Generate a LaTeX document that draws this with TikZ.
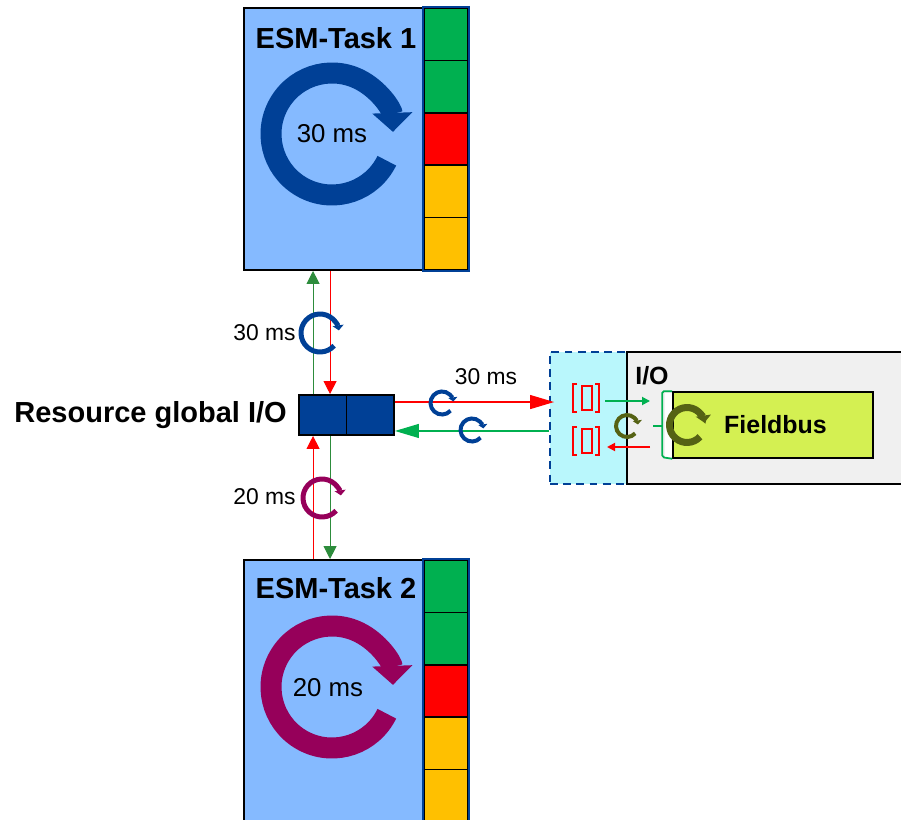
\documentclass[tikz,border=0pt]{standalone}
\usepackage{fontspec}
\setmainfont{Liberation Sans}
\usetikzlibrary{arrows.meta,positioning,calc}

\definecolor{taskblue}{RGB}{133,186,255}
\definecolor{cellgreen}{RGB}{0,176,80}
\definecolor{cellred}{RGB}{255,0,0}
\definecolor{cellorange}{RGB}{255,192,0}
\definecolor{navy}{RGB}{0,64,150}
\definecolor{plum}{RGB}{150,0,90}
\definecolor{iocyan}{RGB}{185,247,252}
\definecolor{iogray}{RGB}{240,240,240}
\definecolor{buslime}{RGB}{212,240,82}
\definecolor{busolive}{RGB}{85,98,20}
\definecolor{wiregreen}{RGB}{45,140,60}
\definecolor{linkgreen}{RGB}{0,176,80}
\definecolor{linkred}{RGB}{255,0,0}

\begin{document}
\begin{tikzpicture}[x=0.02cm, y=-0.02cm,
	taskbox/.style={draw=black, line width=1.1pt, fill=taskblue, inner sep=0pt,
		minimum width=4.48cm, minimum height=5.24cm},
	cellbox/.style={draw=black, line width=1pt, inner sep=0pt,
		minimum width=0.88cm, minimum height=1.048cm},
	title/.style={font=\bfseries\fontsize{16.5}{18}\selectfont, inner sep=0pt},
	subtitle/.style={font=\bfseries\fontsize{14.2}{16}\selectfont, inner sep=0pt},
	mslabel/.style={font=\fontsize{13}{15}\selectfont, inner sep=0pt},
	ringlabel/.style={font=\fontsize{14.7}{16}\selectfont, inner sep=0pt},
	bigloop/.style={line width=0.42cm, -{Triangle[length=0.38cm, width=0.78cm]}},
	smallloop/.style={line width=0.1cm, -{Triangle[length=0.1cm, width=0.22cm]}},
	tinyloop/.style={line width=0.08cm, -{Triangle[length=0.08cm, width=0.18cm]}},
	vlink/.style={line width=0.6pt, -{Triangle[length=0.26cm, width=0.26cm]}},
	hlink/.style={line width=0.7pt, -{Triangle[length=0.48cm, width=0.28cm]}},
	iolink/.style={line width=1pt, -{Triangle[length=0.16cm, width=0.16cm]}},
]

	\useasboundingbox (0,0) rectangle (901,820);

	% ---- tasks

	\node[taskbox] (task1) at (356,139) {};
	\node[taskbox] (task2) at (356,691) {};

	\foreach \c [count=\k from 0] in {cellgreen,cellgreen,cellred,cellorange,cellorange} {
		\node[cellbox, fill=\c] (t1c\k) at (446,{34.2+52.4*\k}) {};
		\node[cellbox, fill=\c] (t2c\k) at (446,{586.2+52.4*\k}) {};
	}
	\draw[navy, line width=1pt] (t1c0.north west) rectangle (t1c4.south east);
	\draw[navy, line width=1pt] (t2c0.north west) rectangle (t2c4.south east);

	\node[title] (t1title) at (336,38) {ESM-Task 1};
	\node[title] (t2title) at (336,588) {ESM-Task 2};

	% ---- task cycles

	\coordinate (t1loop) at (332,134);
	\coordinate (t2loop) at (332,687);
	\draw[navy, bigloop] ([shift={(-26:1.22cm)}]t1loop) arc[start angle=-26, end angle=-358, radius=1.22cm];
	\draw[plum, bigloop] ([shift={(-26:1.22cm)}]t2loop) arc[start angle=-26, end angle=-358, radius=1.22cm];
	\node[ringlabel] (t1ms) at (t1loop) {30 ms};
	\node[ringlabel] (t2ms) at (328,688) {20 ms};

	% ---- resource global I/O

	\node[draw=black, line width=1.1pt, fill=navy, inner sep=0pt,
		minimum width=1.9cm, minimum height=0.8cm] (gio) at (346.5,415) {};
	\draw[black, line width=1pt] (gio.north) -- (gio.south);
	\node[title, left=0.22cm of gio] (giolabel) {Resource global I/O};

	% ---- I/O module

	\node[draw=navy, dashed, dash pattern=on 4.5pt off 3pt, line width=1.1pt, fill=iocyan,
		inner sep=0pt, minimum width=1.54cm, minimum height=2.64cm] (ioport) at (588.5,418) {};
	\node[draw=black, line width=1.1pt, fill=iogray, inner sep=0pt,
		minimum width=5.66cm, minimum height=2.64cm] (iobox) at (768.5,418) {};
	\node[subtitle, anchor=west] (iolabel) at (635,376) {I/O};

	\node[draw=black, line width=0.9pt, fill=buslime, inner sep=0pt,
		minimum width=4cm, minimum height=1.32cm, subtitle] (bus) at (773,425) {\hspace{0.1cm}Fieldbus};
	\fill[white] (665,393) rectangle (672,457);
	\draw[linkgreen, line width=1pt, rounded corners=1pt]
		(bus.north west) -- ++(-10,0) -- ++(0,66) -- (bus.south west);
	\coordinate (busin) at (663,426);
	\draw[linkgreen, line width=1pt] (busin) -- ++(-10,0);

	\foreach \yc in {398,441} {
		\draw[linkred, line width=0.6pt] (577,\yc-14) -- (573,\yc-14) -- (573,\yc+14) -- (577,\yc+14);
		\draw[linkred, line width=0.6pt] (595,\yc-14) -- (599,\yc-14) -- (599,\yc+14) -- (595,\yc+14);
		\draw[linkred, line width=0.6pt] (582,\yc-12) rectangle (592,\yc+12);
	}

	\coordinate (portout) at (605,401);
	\coordinate (busout) at (650,401);
	\coordinate (busback) at (650,447);
	\coordinate (portin) at (607,447);
	\draw[linkgreen, iolink] (portout) -- (busout);
	\draw[linkred, iolink] (busback) -- (portin);

	% ---- connectors

	\draw[wiregreen, vlink] ([xshift=0.3cm]gio.north west) -- ([xshift=0.3cm]gio.north west |- task1.south);
	\draw[linkred, vlink] ([xshift=0.64cm]gio.north west |- task1.south) -- ([xshift=0.64cm]gio.north west);
	\draw[linkred, vlink] ([xshift=0.3cm]gio.south west |- task2.north) -- ([xshift=0.3cm]gio.south west);
	\draw[wiregreen, vlink] ([xshift=0.64cm]gio.south west) -- ([xshift=0.64cm]gio.south west |- task2.north);

	\coordinate (gioout) at ([yshift=-0.16cm]gio.north east);
	\coordinate (gioin) at ([yshift=0.1cm]gio.south east);
	\draw[linkred, hlink] (gioout) -- ([xshift=0.1cm]gioout -| ioport.west);
	\draw[linkgreen, hlink] (gioin -| ioport.west) -- (gioin);

	% ---- link cycles

	\draw[navy, smallloop] ([shift={(-42:0.38cm)}]320,333) arc[start angle=-42, end angle=-352, radius=0.38cm];
	\draw[plum, smallloop] ([shift={(-42:0.38cm)}]322,498) arc[start angle=-42, end angle=-352, radius=0.38cm];
	\draw[navy, tinyloop] ([shift={(-42:0.23cm)}]442,403) arc[start angle=-42, end angle=-352, radius=0.23cm];
	\draw[navy, tinyloop] ([shift={(-42:0.23cm)}]472,430) arc[start angle=-42, end angle=-352, radius=0.23cm];
	\draw[busolive, tinyloop] ([shift={(-42:0.22cm)}]627,426) arc[start angle=-42, end angle=-352, radius=0.22cm];
	\draw[busolive, line width=0.14cm, -{Triangle[length=0.14cm, width=0.3cm]}]
		([shift={(-42:0.35cm)}]687,425) arc[start angle=-42, end angle=-352, radius=0.35cm];

	% ---- period labels

	\node[mslabel, anchor=east] (up30) at (296,333) {30 ms};
	\node[mslabel, anchor=east] (down20) at (296,497) {20 ms};
	\node[mslabel] (io30) at (486,377) {30 ms};

\end{tikzpicture}
\end{document}
